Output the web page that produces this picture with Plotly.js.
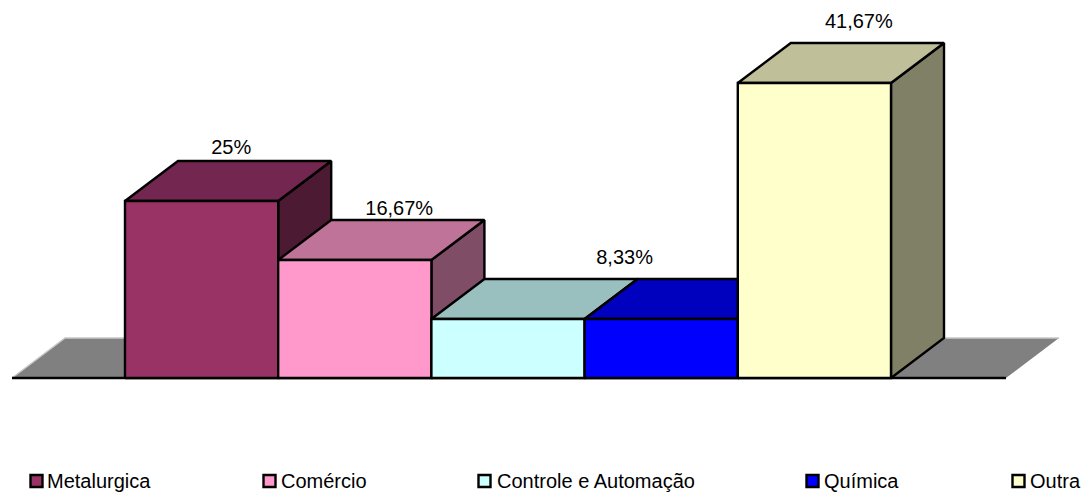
<!DOCTYPE html>
<html>
<head>
<meta charset="utf-8">
<script src="https://cdn.plot.ly/plotly-3.0.1.min.js"></script>
<style>html,body{margin:0;padding:0;background:#fff}#chart{width:1089px;height:496px}</style>
</head>
<body>
<div id="chart"></div>
<script>
const categories = ["Metalurgica", "Comércio", "Controle e Automação", "Química", "Outra"];
const values = [25, 16.67, 8.33, 8.33, 41.67];
const frontColors = ["#993366", "#FF99CC", "#CCFFFF", "#0000FF", "#FFFFCC"];
const topColors = ["#732650", "#BF7399", "#99BFBF", "#0000BF", "#BFBF99"];
const sideColors = ["#4D1A33", "#804D66", "#668080", "#000080", "#808066"];
const dataLabels = ["25%", "16,67%", "", "8,33%", "41,67%"];

// layout constants (bar units / percent units)
const depthX = 0.346, depthY = 5.65;
const floorLeft = -0.7376, floorRight = 5.7505;
const labelX = [0.693, 1.79, 0, 3.261, 4.79];
const labelGap = [5.9, 5.6, 0, 7.05, 7.0];
const legendBoxX = [36.5, 269.5, 484.5, 812.5, 1018.5];
const legendTextX = [47, 281, 497, 824, 1030];
const legendY = 481, legendTextY = 483;

const edge = {color: "#000", width: 2.4};
function poly(xs, ys, fill) {
  return {x: [...xs, xs[0]], y: [...ys, ys[0]], mode: "lines", fill: "toself", fillcolor: fill,
          line: edge, hoverinfo: "skip", showlegend: false};
}
const traces = [];
// floor
traces.push({x: [floorLeft, floorRight, floorRight + depthX, floorLeft + depthX, floorLeft],
             y: [0, 0, depthY, depthY, 0], mode: "lines", fill: "toself", fillcolor: "#808080",
             line: {color: "rgba(0,0,0,0)", width: 0}, hoverinfo: "skip", showlegend: false});
traces.push({x: [floorLeft, floorLeft + depthX, floorRight + depthX], y: [0, depthY, depthY], mode: "lines",
             line: {color: "#c8c8c8", width: 1.5}, hoverinfo: "skip", showlegend: false});
traces.push({x: [floorLeft, floorRight], y: [0, 0], mode: "lines",
             line: {color: "#000", width: 2.4}, hoverinfo: "skip", showlegend: false});
// bars
values.forEach((v, i) => {
  const l = i, r = i + 1;
  traces.push(poly([r, r + depthX, r + depthX, r], [0, depthY, v + depthY, v], sideColors[i]));
  traces.push(poly([l, r, r + depthX, l + depthX], [v, v, v + depthY, v + depthY], topColors[i]));
  traces.push(poly([l, r, r, l], [0, 0, v, v], frontColors[i]));
});
// data labels
traces.push({x: labelX.filter((_, i) => dataLabels[i]),
             y: values.map((v, i) => v + labelGap[i]).filter((_, i) => dataLabels[i]),
             text: dataLabels.filter(t => t), mode: "text", textposition: "top center",
             textfont: {family: "Liberation Sans, Arial, sans-serif", size: 20, color: "#000"},
             cliponaxis: false, hoverinfo: "skip", showlegend: false});
// legend
traces.push({x: legendBoxX, y: categories.map(() => legendY), xaxis: "x2", yaxis: "y2", mode: "markers",
             marker: {symbol: "square", size: 12, color: frontColors, line: {color: "#000", width: 2.4}},
             hoverinfo: "skip", showlegend: false});
traces.push({x: legendTextX, y: categories.map(() => legendTextY), xaxis: "x2", yaxis: "y2", mode: "text",
             text: categories, textposition: "middle right",
             textfont: {family: "Liberation Sans, Arial, sans-serif", size: 20, color: "#000"},
             cliponaxis: false, hoverinfo: "skip", showlegend: false});

const off = {visible: false, fixedrange: true};
const layout = {
  width: 1089, height: 496, autosize: false,
  margin: {l: 0, r: 0, t: 0, b: 0, pad: 0},
  paper_bgcolor: "#fff", plot_bgcolor: "#fff", showlegend: false,
  xaxis: {...off, range: [-125 / 153.2, (1089 - 125) / 153.2]},
  yaxis: {...off, range: [-118 / 7.08, 378 / 7.08]},
  xaxis2: {...off, range: [0, 1089], overlaying: "x"},
  yaxis2: {...off, range: [496, 0], overlaying: "y"}
};
Plotly.newPlot("chart", traces, layout, {displayModeBar: false, staticPlot: true});
</script>
</body>
</html>
